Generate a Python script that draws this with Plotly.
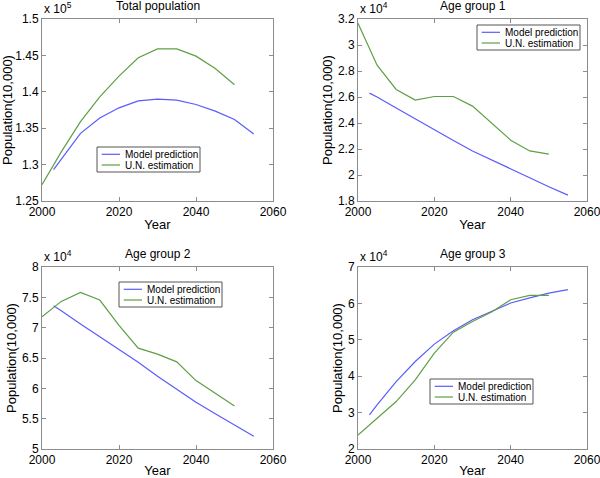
import plotly.graph_objects as go

# ---------------- data ----------------
series_names = ["Model prediction", "U.N. estimation"]
panel_titles = ["Total population", "Age group 1", "Age group 2", "Age group 3"]
exponents = [5, 4, 4, 4]

model_years = [2003, 2005, 2010, 2015, 2020, 2025, 2030, 2035, 2040, 2045, 2050, 2055]
un_years = [2000, 2005, 2010, 2015, 2020, 2025, 2030, 2035, 2040, 2045, 2050]

total_model = [1.293, 1.307, 1.343, 1.364, 1.378, 1.3876, 1.390, 1.3885, 1.3826, 1.3734, 1.362, 1.342]
total_un = [1.2725, 1.3174, 1.359, 1.393, 1.4216, 1.4468, 1.459, 1.459, 1.449, 1.432, 1.4096]

age1_model = [2.630, 2.600, 2.515, 2.430, 2.345, 2.265, 2.185, 2.115, 2.045, 1.975, 1.910, 1.845]
age1_un = [3.167, 2.845, 2.658, 2.576, 2.604, 2.604, 2.530, 2.396, 2.268, 2.185, 2.160]

age2_model = [7.36, 7.28, 7.06, 6.85, 6.64, 6.43, 6.20, 5.98, 5.77, 5.58, 5.40, 5.21]
age2_un = [7.18, 7.433, 7.582, 7.455, 7.037, 6.663, 6.564, 6.437, 6.128, 5.914, 5.71]

age3_model = [2.936, 3.21, 3.853, 4.404, 4.881, 5.248, 5.55, 5.78, 6.01, 6.15, 6.28, 6.376]
age3_un = [2.385, 2.844, 3.303, 3.90, 4.633, 5.211, 5.505, 5.761, 6.10, 6.22, 6.22]

x_ticks = [2000, 2020, 2040, 2060]
y_ranges = [(1.25, 1.5), (1.8, 3.2), (5, 8), (2, 7)]
y_dticks = [0.05, 0.2, 0.5, 1]

model_series = [total_model, age1_model, age2_model, age3_model]
un_series = [total_un, age1_un, age2_un, age3_un]

# ---------------- layout geometry (pixels) ----------------
W, H = 600, 478
panels_px = [  # left, right, top, bottom
    (42, 273, 19, 201),
    (358, 587, 19, 201),
    (42, 273, 267, 449),
    (358, 587, 267, 449),
]
legend_px = [(97, 147), (477, 25), (119, 282), (430, 379)]  # box left, top

colors = ["#5b5bff", "#5f9f45"]
FONT = "Liberation Sans, Arial, Helvetica, sans-serif"
axis_grey = "#8c8c8c"

fig = go.Figure()

for i in range(4):
    xa = "x" if i == 0 else f"x{i+1}"
    ya = "y" if i == 0 else f"y{i+1}"
    fig.add_trace(go.Scatter(x=model_years, y=model_series[i], mode="lines",
                             name=series_names[0], line=dict(color=colors[0], width=1.2),
                             xaxis=xa, yaxis=ya, showlegend=False))
    fig.add_trace(go.Scatter(x=un_years, y=un_series[i], mode="lines",
                             name=series_names[1], line=dict(color=colors[1], width=1.2),
                             xaxis=xa, yaxis=ya, showlegend=False))

layout = dict(width=W, height=H, margin=dict(l=0, r=0, t=0, b=0, autoexpand=False),
              paper_bgcolor="white", plot_bgcolor="white",
              font=dict(family=FONT, size=12, color="black"),
              showlegend=False)

annotations = []
shapes = []
for i, (l, r, t, b) in enumerate(panels_px):
    xk = "xaxis" if i == 0 else f"xaxis{i+1}"
    yk = "yaxis" if i == 0 else f"yaxis{i+1}"
    ya = "y" if i == 0 else f"y{i+1}"
    xa = "x" if i == 0 else f"x{i+1}"
    layout[xk] = dict(domain=[l / W, r / W], range=[2000, 2060], tickvals=x_ticks,
                      showline=True, mirror="allticks", linecolor=axis_grey, linewidth=1,
                      ticks="inside", ticklen=4, tickcolor=axis_grey, showgrid=False,
                      zeroline=False, anchor=ya, tickfont=dict(size=12), automargin=False,
                      ticklabeloverflow="allow",
                      title=dict(text="Year", font=dict(size=13), standoff=1))
    y0, y1 = y_ranges[i]
    layout[yk] = dict(domain=[1 - b / H, 1 - t / H], range=[y0, y1], dtick=y_dticks[i],
                      tick0=y0, showline=True, mirror="allticks", linecolor=axis_grey,
                      linewidth=1, ticks="inside", ticklen=4, tickcolor=axis_grey,
                      showgrid=False, zeroline=False, anchor=xa, tickfont=dict(size=12),
                      automargin=False, ticklabeloverflow="allow",
                      title=dict(text="Population(10,000)", font=dict(size=13), standoff=2))
    # panel title
    annotations.append(dict(text=panel_titles[i], xref="paper", yref="paper",
                            x=(l + r) / 2 / W, y=1 - (t - 13) / H, xanchor="center",
                            yanchor="middle", showarrow=False, font=dict(size=12)))
    # exponent label
    annotations.append(dict(text=f"x 10<sup>{exponents[i]}</sup>", xref="paper", yref="paper",
                            x=l / W, y=1 - (t - 1) / H, xanchor="left", yanchor="bottom",
                            showarrow=False, font=dict(size=12)))
    # legend box
    bl, bt = legend_px[i]
    bw, bh = 103, 25
    shapes.append(dict(type="rect", xref="paper", yref="paper",
                       x0=bl / W, x1=(bl + bw) / W, y0=1 - (bt + bh) / H, y1=1 - bt / H,
                       line=dict(color="#555555", width=1), fillcolor="white", layer="above"))
    for k in range(2):
        ry = bt + 7.3 + k * 10.7
        shapes.append(dict(type="line", xref="paper", yref="paper",
                           x0=(bl + 4.7) / W, x1=(bl + 23) / W, y0=1 - ry / H, y1=1 - ry / H,
                           line=dict(color=colors[k], width=1.2), layer="above"))
        annotations.append(dict(text=series_names[k], xref="paper", yref="paper",
                                x=(bl + 26.3) / W, y=1 - ry / H, xanchor="left",
                                yanchor="middle", showarrow=False, font=dict(size=10)))

layout["annotations"] = annotations
layout["shapes"] = shapes
fig.update_layout(**layout)
fig.write_html("out.html", config={"displayModeBar": False},
               post_script="document.body.style.margin='0';document.body.style.overflow='hidden';")
